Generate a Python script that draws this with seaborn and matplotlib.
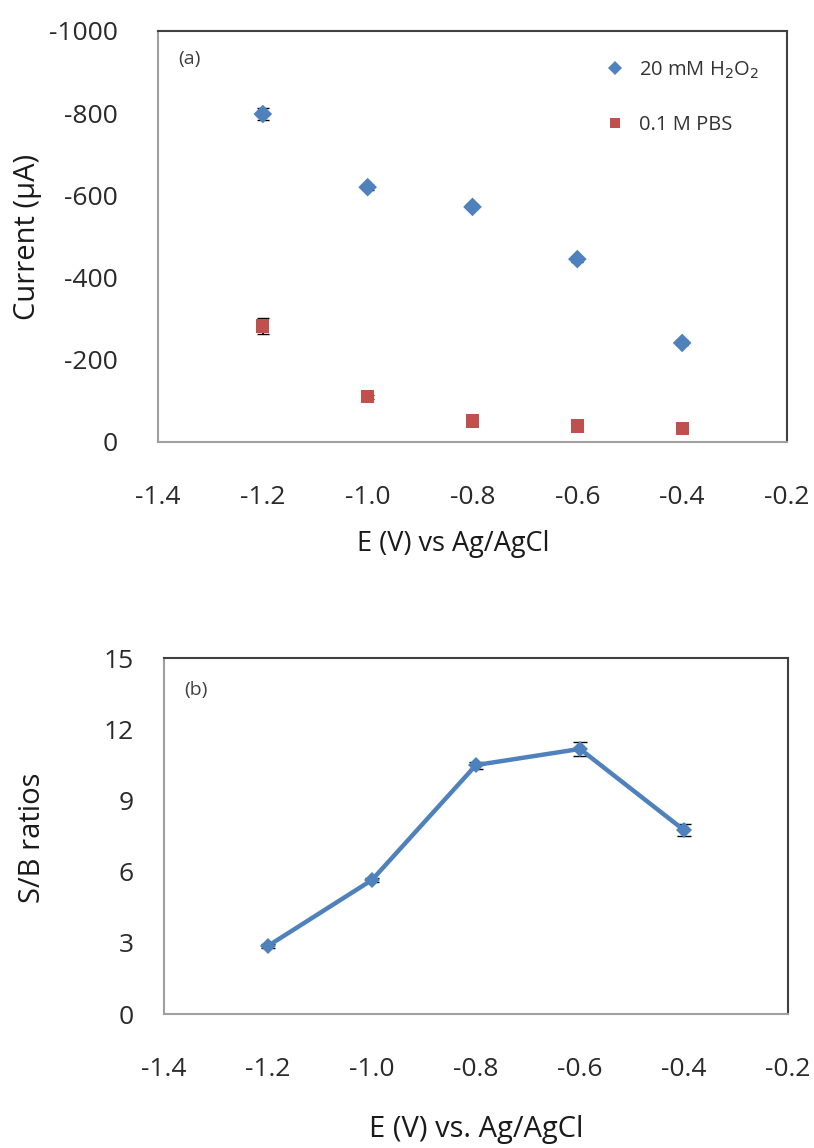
import pandas as pd
import matplotlib.pyplot as plt
from matplotlib.ticker import MultipleLocator
import seaborn as sns

# values
potential = [-1.2, -1.0, -0.8, -0.6, -0.4]
h2o2_current = [-798, -620, -572, -445, -241]
h2o2_err = [15, 6, 6, 6, 6]
pbs_current = [-282, -110, -51, -39, -32]
pbs_err = [20, 5, 4, 4, 4]
sb_ratio = [2.87, 5.65, 10.49, 11.17, 7.75]
sb_err = [0.1, 0.1, 0.15, 0.3, 0.26]

blue = "#4F81BD"
red = "#C0504D"

sns.set_style("white")
plt.rcParams['font.family'] = ['Open Sans', 'DejaVu Sans']

df = pd.DataFrame({
    "E": potential * 2,
    "current": h2o2_current + pbs_current,
    "series": ["20 mM H$_2$O$_2$"] * 5 + ["0.1 M PBS"] * 5,
})
df_sb = pd.DataFrame({"E": potential, "ratio": sb_ratio})

fig = plt.figure(figsize=(8.14, 11.48), dpi=100)
ax1 = fig.add_axes([0.1941, 0.615, 0.7727, 0.358])
ax2 = fig.add_axes([0.2015, 0.1167, 0.7665, 0.3101])


def style_axes(ax, ypad):
    for s in ["left", "bottom"]:
        ax.spines[s].set_color("#A0A0A0")
        ax.spines[s].set_linewidth(1.5)
    for s in ["top", "right"]:
        ax.spines[s].set_color("#404040")
        ax.spines[s].set_linewidth(1.5)
    ax.tick_params(which="both", direction="in", length=9, width=1.2,
                   color="#A0A0A0", labelsize=19, labelcolor="#2a2a2a")
    ax.tick_params(axis="x", which="both", pad=31)
    ax.tick_params(axis="y", which="both", pad=ypad)
    ax.tick_params(top=False, right=False, which="both")


# ---- (a) current vs potential ----
ax1.errorbar(potential, h2o2_current, yerr=h2o2_err, fmt="none", ecolor="black",
             elinewidth=1.2, capsize=4, zorder=2)
ax1.errorbar(potential, pbs_current, yerr=pbs_err, fmt="none", ecolor="black",
             elinewidth=1.2, capsize=4, zorder=2)
sns.scatterplot(data=df, x="E", y="current", hue="series", style="series",
                palette=[blue, red], markers=["D", "s"], s=90, linewidth=0,
                ax=ax1, zorder=3)
ax1.set_xlim(-1.4, -0.2)
ax1.set_ylim(0, -1000)
ax1.xaxis.set_major_locator(MultipleLocator(0.2))
ax1.xaxis.set_minor_locator(MultipleLocator(0.1))
ax1.yaxis.set_major_locator(MultipleLocator(200))
ax1.yaxis.set_minor_locator(MultipleLocator(100))
ax1.xaxis.set_major_formatter(plt.FuncFormatter(lambda v, p: f"{v:.1f}"))
ax1.yaxis.set_major_formatter(plt.FuncFormatter(lambda v, p: f"{v:.0f}"))
style_axes(ax1, 29)
ax1.set_xlabel("E (V) vs Ag/AgCl", fontsize=19.5, color="#1a1a1a")
ax1.xaxis.set_label_coords(0.469, -0.215)
ax1.set_ylabel("Current (µA)", fontsize=21, color="#1a1a1a")
ax1.yaxis.set_label_coords(-0.184, 0.5)
ax1.text(0.032, 0.92, "(a)", transform=ax1.transAxes, fontsize=14, color="#404040")
leg = ax1.legend(loc="upper right", bbox_to_anchor=(0.985, 0.975), frameon=False,
                 fontsize=14.5, labelspacing=1.7, handletextpad=0.2, markerscale=0.75)
for t in leg.get_texts():
    t.set_color("#333333")

# ---- (b) S/B ratio ----
ax2.errorbar(potential, sb_ratio, yerr=sb_err, fmt="none", ecolor="black",
             elinewidth=1.2, capsize=5, zorder=2)
sns.lineplot(data=df_sb, x="E", y="ratio", color=blue, linewidth=3.2,
             marker="D", markersize=8, markeredgewidth=0, ax=ax2, zorder=3)
ax2.set_xlim(-1.4, -0.2)
ax2.set_ylim(0, 15)
ax2.xaxis.set_major_locator(MultipleLocator(0.2))
ax2.xaxis.set_minor_locator(MultipleLocator(0.1))
ax2.yaxis.set_major_locator(MultipleLocator(3))
ax2.yaxis.set_minor_locator(MultipleLocator(1.5))
ax2.xaxis.set_major_formatter(plt.FuncFormatter(lambda v, p: f"{v:.1f}"))
style_axes(ax2, 22)
ax2.set_xlabel("E (V) vs. Ag/AgCl", fontsize=21, color="#1a1a1a")
ax2.xaxis.set_label_coords(0.5, -0.285)
ax2.set_ylabel("S/B ratios", fontsize=21, color="#1a1a1a")
ax2.yaxis.set_label_coords(-0.1875, 0.494)
ax2.text(0.033, 0.895, "(b)", transform=ax2.transAxes, fontsize=14, color="#404040")

fig.savefig("out.png", dpi=100, facecolor="white")
